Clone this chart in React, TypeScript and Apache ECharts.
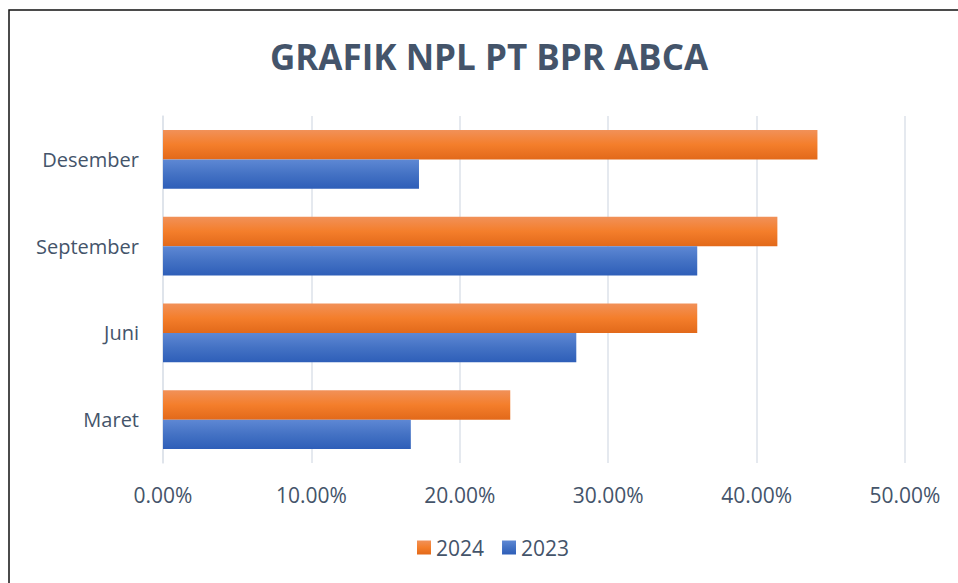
import React, { useEffect, useRef } from "react";
import * as echarts from "echarts";

const titleText = "GRAFIK NPL PT BPR ABCA";
const categories = ["Maret", "Juni", "September", "Desember"];
const series2023 = [0.167, 0.2785, 0.36, 0.1725];
const series2024 = [0.234, 0.36, 0.414, 0.441];
const seriesNames = ["2024", "2023"];

const FONT = "'Open Sans', 'Noto Sans', sans-serif";
const TEXT = "#44546A";

export default function App() {
  const ref = useRef<HTMLDivElement>(null);
  useEffect(() => {
    if (!ref.current) return;
    const chart = echarts.init(ref.current, null, { renderer: "svg" });
    const orange = new echarts.graphic.LinearGradient(0, 0, 0, 1, [
      { offset: 0, color: "#F19159" },
      { offset: 0.5, color: "#F47E2B" },
      { offset: 1, color: "#E2691A" },
    ]);
    const blue = new echarts.graphic.LinearGradient(0, 0, 0, 1, [
      { offset: 0, color: "#5E88D4" },
      { offset: 0.5, color: "#4472C4" },
      { offset: 1, color: "#2E5EB8" },
    ]);
    chart.setOption({
      animation: false,
      backgroundColor: "#ffffff",
      textStyle: { fontFamily: FONT },
      title: {
        text: titleText,
        left: 484,
        textAlign: "center",
        top: 34,
        textStyle: { fontFamily: FONT, fontWeight: "bold", fontSize: 35, color: TEXT },
      },
      graphic: [
        {
          type: "rect",
          shape: { x: 9, y: 10, width: 1000, height: 1000 },
          style: { fill: "none", stroke: "#111", lineWidth: 1.5 },
          silent: true,
        },
      ],
      legend: {
        data: seriesNames,
        bottom: 20,
        left: 412,
        itemWidth: 14,
        itemHeight: 14,
        itemGap: 18,
        icon: "rect",
        textStyle: { fontFamily: FONT, fontSize: 21, color: TEXT },
      },
      grid: { left: 163, right: 53, top: 116, bottom: 120, containLabel: false },
      xAxis: {
        type: "value",
        min: 0,
        max: 0.5,
        interval: 0.1,
        axisLine: { show: false },
        axisTick: { show: false },
        splitLine: { lineStyle: { color: "#DDE2EA", width: 1.5 } },
        axisLabel: {
          margin: 21,
          fontFamily: FONT,
          fontSize: 21,
          color: TEXT,
          formatter: (v: number) => (v * 100).toFixed(2) + "%",
        },
      },
      yAxis: {
        type: "category",
        data: categories,
        axisLine: { show: true, lineStyle: { color: "#DDE2EA", width: 1.5 } },
        axisTick: { show: false },
        axisLabel: { margin: 24, fontFamily: FONT, fontSize: 20, color: TEXT },
      },
      series: [
        {
          name: "2024",
          type: "bar",
          data: series2024,
          barGap: "0%",
          barCategoryGap: "32%",
          itemStyle: { color: orange },
        },
        {
          name: "2023",
          type: "bar",
          data: series2023,
          barGap: "0%",
          barCategoryGap: "32%",
          itemStyle: { color: blue },
        },
      ],
    });
    return () => chart.dispose();
  }, []);
  return (
    <div
      ref={ref}
      style={{ position: "absolute", left: 0, top: 0, width: 958, height: 583 }}
    />
  );
}
